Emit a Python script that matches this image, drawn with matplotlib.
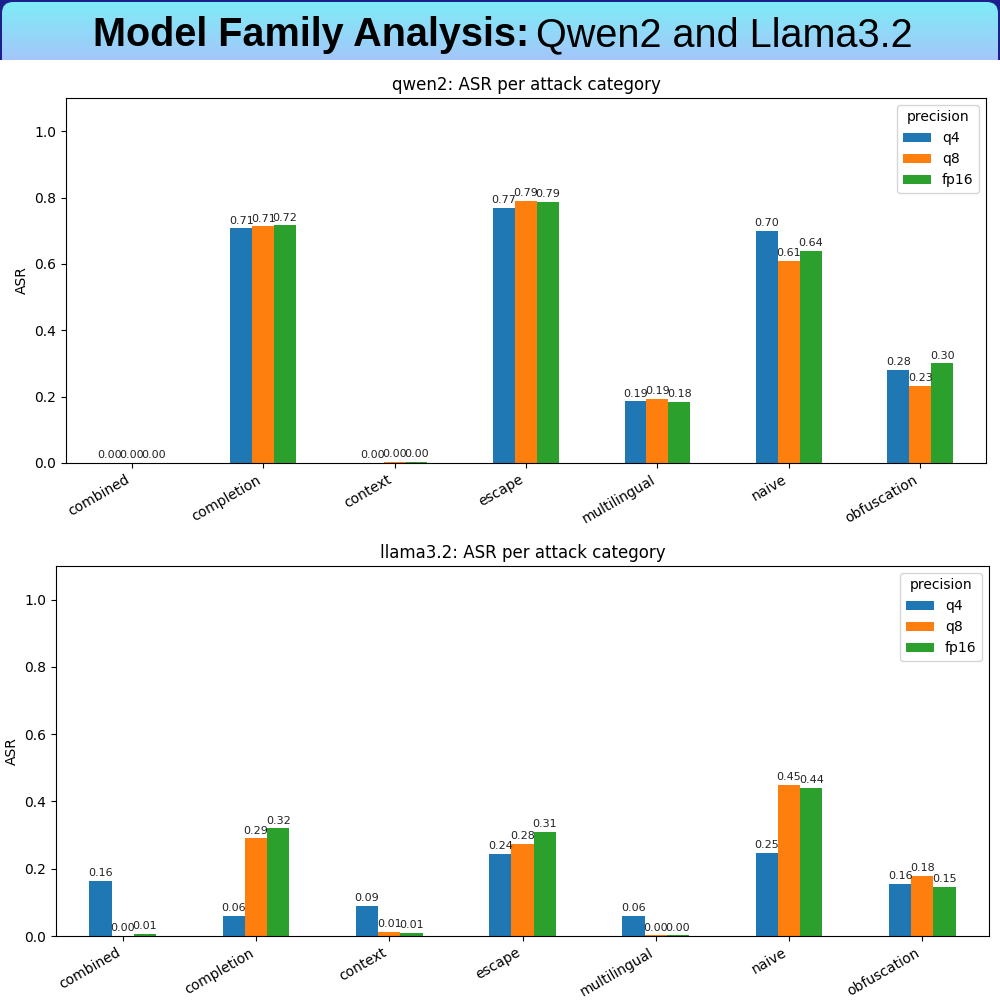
import matplotlib
matplotlib.use("Agg")
import matplotlib.pyplot as plt
import numpy as np
from matplotlib.patches import FancyBboxPatch, Rectangle

# -----------------------------
# Data
# -----------------------------
CATEGORIES = ["combined", "completion", "context", "escape",
              "multilingual", "naive", "obfuscation"]
PRECISIONS = ["q4", "q8", "fp16"]

QWEN2_Q4 = [0.0, 0.707, 0.0, 0.770, 0.186, 0.700, 0.280]
QWEN2_Q8 = [0.0, 0.713, 0.003, 0.790, 0.194, 0.610, 0.233]
QWEN2_FP16 = [0.0, 0.716, 0.003, 0.786, 0.184, 0.640, 0.300]

LLAMA_Q4 = [0.163, 0.059, 0.089, 0.243, 0.059, 0.248, 0.156]
LLAMA_Q8 = [0.0, 0.290, 0.013, 0.275, 0.002, 0.450, 0.179]
LLAMA_FP16 = [0.007, 0.320, 0.009, 0.310, 0.002, 0.440, 0.147]

COLORS = ["#1f77b4", "#ff7f0e", "#2ca02c"]

plt.rcParams.update({"font.family": "DejaVu Sans", "font.size": 10})

fig = plt.figure(figsize=(10, 10), dpi=100)

# -----------------------------
# Banner (gradient box with rounded top corners)
# -----------------------------
fig.patches.append(Rectangle((0, 0.94), 1, 0.06, transform=fig.transFigure,
                             facecolor="#1c1f8c", edgecolor="none", zorder=-5))
bax = fig.add_axes([0.002, 0.94, 0.996, 0.058])
bax.set_zorder(1)
bax.set_xlim(0, 996)
bax.set_ylim(0, 58)
bax.axis("off")
grad = np.linspace(0, 1, 100).reshape(-1, 1)
top_c = np.array([0x7e, 0xec, 0xf6]) / 255
bot_c = np.array([0xa4, 0xc6, 0xfa]) / 255
img = top_c[None, None, :] * (1 - grad[:, :, None]) + bot_c[None, None, :] * grad[:, :, None]
im = bax.imshow(img, extent=(0, 996, 0, 58), aspect="auto", origin="upper")
clip = FancyBboxPatch((0, -30), 996, 88, boxstyle="round,pad=0,rounding_size=11",
                      facecolor="none", edgecolor="none")
bax.add_patch(clip)
im.set_clip_path(clip)

title_font = ["Liberation Sans Narrow", "Liberation Sans", "DejaVu Sans"]
fig.text(0.529, 0.965, "Model Family Analysis:", ha="right", va="center",
         fontsize=28.5, fontweight="bold", family=title_font, zorder=5)
fig.text(0.536, 0.965, "Qwen2 and Llama3.2", ha="left", va="center",
         fontsize=28.5, family=title_font, zorder=5)


# -----------------------------
# Panels
# -----------------------------
def draw_panel(ax, series, title):
    x = np.arange(len(CATEGORIES))
    width = 0.5 / 3
    for i, (vals, name) in enumerate(zip(series, PRECISIONS)):
        bars = ax.bar(x + (i - 1) * width, vals, width, color=COLORS[i], label=name)
        ax.bar_label(bars, fmt="%.2f", fontsize=8, padding=2, color="#222222")
    ax.set_xticks(x)
    ax.set_xticklabels(CATEGORIES, rotation=30, ha="right")
    ax.set_xlim(-0.5, len(CATEGORIES) - 0.5)
    ax.set_ylim(0, 1.1)
    ax.set_ylabel("ASR")
    ax.set_title(title)
    ax.legend(title="precision", loc="upper right")


ax1 = fig.add_axes([0.066, 0.537, 0.920, 0.365])
draw_panel(ax1, [QWEN2_Q4, QWEN2_Q8, QWEN2_FP16], "qwen2: ASR per attack category")

ax2 = fig.add_axes([0.056, 0.064, 0.933, 0.370])
draw_panel(ax2, [LLAMA_Q4, LLAMA_Q8, LLAMA_FP16], "llama3.2: ASR per attack category")

fig.savefig("out.png", dpi=100)
